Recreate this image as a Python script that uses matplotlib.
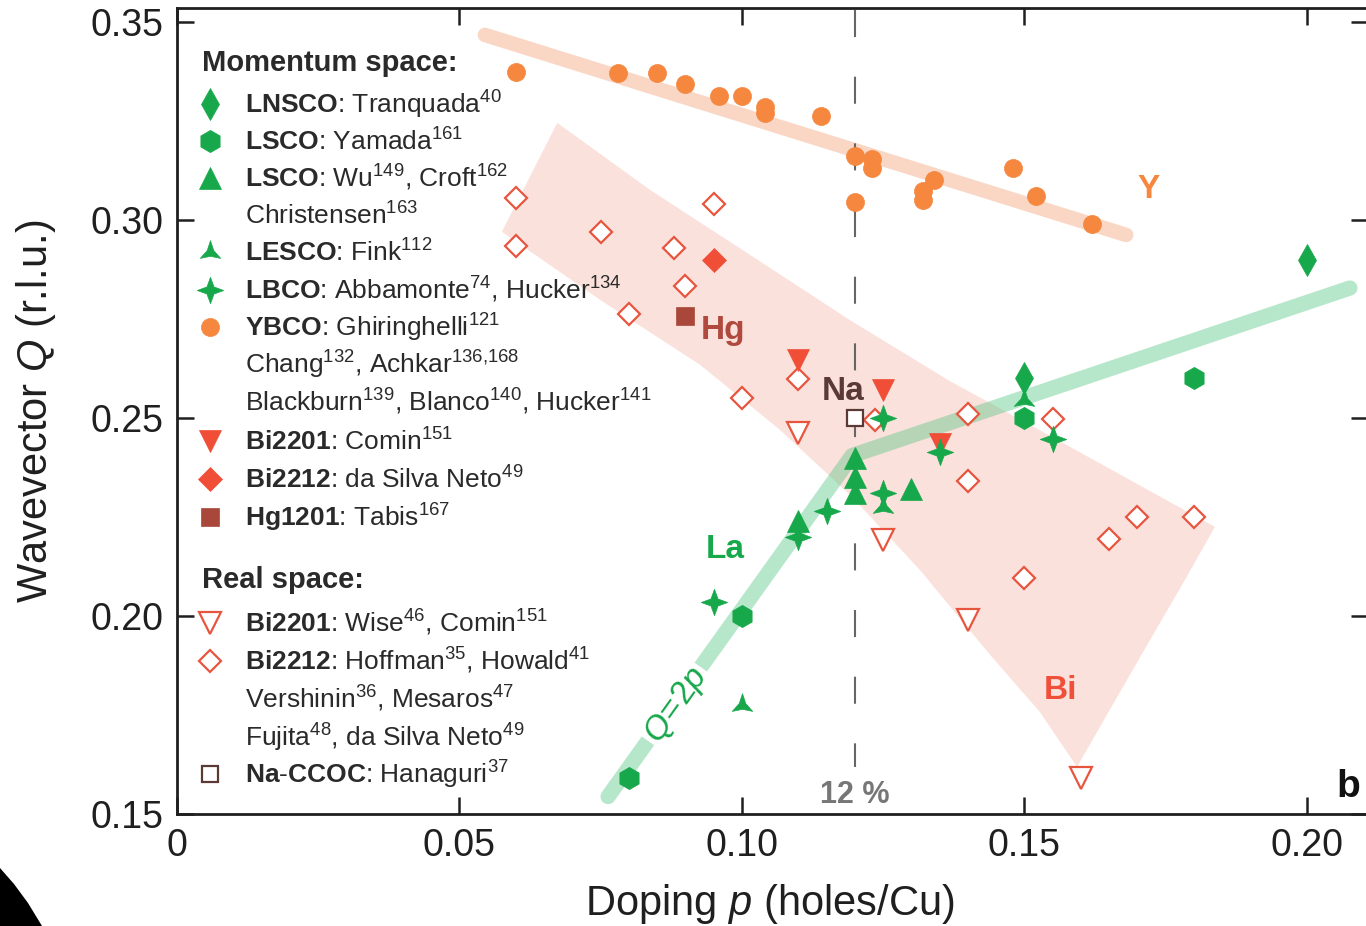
import matplotlib
matplotlib.use('Agg')
import matplotlib.pyplot as plt
from matplotlib.path import Path
from matplotlib.patches import Polygon

plt.rcParams['font.family'] = ['Liberation Sans', 'DejaVu Sans']
plt.rcParams['mathtext.fontset'] = 'custom'
plt.rcParams['mathtext.rm'] = 'Liberation Sans'
plt.rcParams['mathtext.it'] = 'Liberation Sans:italic'
plt.rcParams['mathtext.bf'] = 'Liberation Sans:bold'
plt.rcParams['lines.scale_dashes'] = False

# ---- momentum space data (doping p, wavevector Q) ----
lnsco_p = [0.15, 0.20]
lnsco_q = [0.260, 0.290]

lsco_yam_p = [0.08, 0.10, 0.15, 0.18]
lsco_yam_q = [0.159, 0.200, 0.250, 0.260]

lsco_wu_p = [0.11, 0.12, 0.12, 0.12, 0.13]
lsco_wu_q = [0.224, 0.240, 0.235, 0.231, 0.232]

lesco_p = [0.10, 0.125, 0.15]
lesco_q = [0.1775, 0.2275, 0.2545]

lbco_p = [0.095, 0.11, 0.115, 0.125, 0.125, 0.135, 0.155]
lbco_q = [0.2035, 0.220, 0.2266, 0.250, 0.231, 0.2414, 0.2447]

ybco_p = [0.060, 0.078, 0.085, 0.090, 0.096, 0.100, 0.104, 0.104, 0.114, 0.120,
          0.123, 0.123, 0.120, 0.134, 0.132, 0.132, 0.148, 0.152, 0.162]
ybco_q = [0.3373, 0.337, 0.337, 0.3343, 0.3312, 0.3312, 0.3285, 0.327, 0.3263, 0.3162,
          0.3153, 0.3131, 0.3046, 0.3101, 0.3072, 0.3051, 0.313, 0.3061, 0.299]

bi2201_comin_p = [0.11, 0.125, 0.135]
bi2201_comin_q = [0.2646, 0.2571, 0.2434]

bi2212_neto_p = [0.095]
bi2212_neto_q = [0.290]

hg1201_p = [0.09]
hg1201_q = [0.2758]

# ---- real space data ----
bi2201_stm_p = [0.11, 0.125, 0.14, 0.16]
bi2201_stm_q = [0.2461, 0.2192, 0.199, 0.1591]

bi2212_stm_p = [0.06, 0.06, 0.075, 0.095, 0.088, 0.09, 0.08, 0.11, 0.10, 0.1235,
                0.14, 0.14, 0.155, 0.165, 0.17, 0.18, 0.15]
bi2212_stm_q = [0.3055, 0.2934, 0.297, 0.304, 0.293, 0.2833, 0.2763, 0.2598, 0.255, 0.2495,
                0.251, 0.234, 0.2497, 0.2194, 0.2249, 0.2249, 0.2095]

naccoc_p = [0.12]
naccoc_q = [0.25]

# ---- guide bands ----
y_band_p = [0.0545, 0.168]
y_band_q = [0.3467, 0.2962]

la_band_p = [0.0763, 0.1195, 0.2076]
la_band_q = [0.1544, 0.2405, 0.2828]

# outline of the Bi region: upper edge, right edge down to the tip, lower edge back
bi_band_p = [0.0673, 0.0837, 0.1014, 0.1191, 0.1368, 0.1545, 0.1837,
             0.1784, 0.1722, 0.1651, 0.1593,
             0.1527, 0.1439, 0.1315, 0.1191, 0.1067, 0.0926, 0.0749, 0.0575]
bi_band_q = [0.3245, 0.3076, 0.2912, 0.2747, 0.2593, 0.2455, 0.2225,
             0.2091, 0.1939, 0.1763, 0.1619,
             0.1758, 0.1902, 0.2116, 0.2306, 0.2470, 0.2634, 0.2798, 0.2970]

p_cut = 0.12

xticks = [0, 0.05, 0.10, 0.15, 0.20]
xticklabels = ['0', '0.05', '0.10', '0.15', '0.20']
yticks = [0.15, 0.20, 0.25, 0.30, 0.35]
yticklabels = ['0.15', '0.20', '0.25', '0.30', '0.35']

GREEN = '#17a84b'
ORANGE = '#f5873f'
RED = '#f04e37'
RED_OPEN = '#e8553f'
BROWN = '#a8473a'
DARK_BROWN = '#5b3a35'
TXT = '#2a2a2a'

star4 = Path.unit_regular_star(4, 0.38)
tri3 = Path.unit_regular_star(3, 0.32)

fig = plt.figure(figsize=(13.66, 9.26), dpi=100)
ax = fig.add_axes([177 / 1366, (926 - 814) / 926, 1191 / 1366, 806 / 926])
ax.set_xlim(0, 0.2108)
ax.set_ylim(0.15, 0.3535)

# shaded guides
ax.add_patch(Polygon(list(zip(bi_band_p, bi_band_q)), closed=True,
                     facecolor='#fbe1dc', edgecolor='none', zorder=1))
ax.plot(y_band_p, y_band_q, color='#fad7c5', lw=10.5, solid_capstyle='round', zorder=2)
ax.plot(la_band_p, la_band_q, color='#4cc37f', alpha=0.4, lw=11,
        solid_capstyle='round', solid_joinstyle='round', zorder=2)
ax.text(0.0885, 0.1773, '$Q\\!=\\!2p$', color=GREEN, fontsize=24, rotation=54.5,
        ha='center', va='center', rotation_mode='anchor', zorder=3,
        bbox=dict(facecolor='white', edgecolor='none', pad=2))

# 12 % line
ax.plot([p_cut, p_cut], [0.353, 0.1619], color='#666666', lw=1.5,
        linestyle=(0, (19.5, 28.5)), zorder=3)


def pts(p, q, marker, ms, face, edge, mew=0.5, z=5):
    ax.plot(p, q, linestyle='none', marker=marker, ms=ms, mfc=face, mec=edge,
            mew=mew, zorder=z)


# real space (open symbols)
pts(bi2212_stm_p, bi2212_stm_q, 'D', 11.5, 'white', RED_OPEN, 1.6)
pts(bi2201_stm_p, bi2201_stm_q, 'v', 16, 'white', RED_OPEN, 1.6)
pts(naccoc_p, naccoc_q, 's', 11.5, 'white', DARK_BROWN, 1.6)

# momentum space (filled symbols)
pts(ybco_p, ybco_q, 'o', 13, ORANGE, ORANGE)
pts(bi2201_comin_p, bi2201_comin_q, 'v', 16, RED, RED)
pts(bi2212_neto_p, bi2212_neto_q, 'D', 12.5, RED, RED)
pts(hg1201_p, hg1201_q, 's', 12.5, BROWN, BROWN)
pts(lsco_yam_p, lsco_yam_q, 'h', 16, GREEN, GREEN, z=6)
pts(lsco_wu_p, lsco_wu_q, '^', 16, GREEN, GREEN, z=6)
pts(lesco_p, lesco_q, tri3, 17, GREEN, GREEN, z=6)
pts(lnsco_p, lnsco_q, 'd', 16, GREEN, GREEN, z=6)
pts(lbco_p, lbco_q, star4, 19, GREEN, GREEN, z=7)

# region labels
lab = dict(fontweight='bold', ha='center', va='center', zorder=8)
ax.text(0.1719, 0.3076, 'Y', color=ORANGE, fontsize=24, **lab)
ax.text(0.0966, 0.2722, 'Hg', color='#b04a3e', fontsize=24, **lab)
ax.text(0.1179, 0.2566, 'Na', color=DARK_BROWN, fontsize=24, **lab)
ax.text(0.0970, 0.2167, 'La', color=GREEN, fontsize=24, **lab)
ax.text(0.1563, 0.1813, 'Bi', color='#f0503a', fontsize=24, **lab)
ax.text(p_cut, 0.1548, '12 %', color='#777777', fontsize=22, **lab)
ax.text(0.2073, 0.1568, 'b', color='#111111', fontsize=28, **lab)

# legend, built row by row
leg_mx = 0.00584
leg_tx = 0.01204
leg_hx = 0.00442


def row_q(y_px):
    return 0.15 + (814 - y_px) / 3960


ax.text(leg_hx, row_q(63), 'Momentum space:', fontsize=21, fontweight='bold',
        color=TXT, va='center', zorder=8)
ax.text(leg_hx, row_q(580), 'Real space:', fontsize=21, fontweight='bold',
        color=TXT, va='center', zorder=8)

legend_rows = [
    (104, 'd', 16, GREEN, GREEN, r'$\mathbf{LNSCO}$: Tranquada$^{40}$'),
    (141, 'h', 16, GREEN, GREEN, r'$\mathbf{LSCO}$: Yamada$^{161}$'),
    (178, '^', 16, GREEN, GREEN, r'$\mathbf{LSCO}$: Wu$^{149}$, Croft$^{162}$'),
    (215, None, 0, None, None, r'Christensen$^{163}$'),
    (252, tri3, 17, GREEN, GREEN, r'$\mathbf{LESCO}$: Fink$^{112}$'),
    (290, star4, 19, GREEN, GREEN, r'$\mathbf{LBCO}$: Abbamonte$^{74}$, Hucker$^{134}$'),
    (327, 'o', 13, ORANGE, ORANGE, r'$\mathbf{YBCO}$: Ghiringhelli$^{121}$'),
    (364, None, 0, None, None, r'Chang$^{132}$, Achkar$^{136{,}168}$'),
    (402, None, 0, None, None, r'Blackburn$^{139}$, Blanco$^{140}$, Hucker$^{141}$'),
    (441, 'v', 16, RED, RED, r'$\mathbf{Bi2201}$: Comin$^{151}$'),
    (479, 'D', 12.5, RED, RED, r'$\mathbf{Bi2212}$: da Silva Neto$^{49}$'),
    (517, 's', 12.5, BROWN, BROWN, r'$\mathbf{Hg1201}$: Tabis$^{167}$'),
    (623, 'v', 16, 'white', RED_OPEN, r'$\mathbf{Bi2201}$: Wise$^{46}$, Comin$^{151}$'),
    (661, 'D', 11.5, 'white', RED_OPEN, r'$\mathbf{Bi2212}$: Hoffman$^{35}$, Howald$^{41}$'),
    (699, None, 0, None, None, r'Vershinin$^{36}$, Mesaros$^{47}$'),
    (737, None, 0, None, None, r'Fujita$^{48}$, da Silva Neto$^{49}$'),
    (774, 's', 11.5, 'white', DARK_BROWN, r'$\mathbf{Na}$-$\mathbf{CCOC}$: Hanaguri$^{37}$'),
]

for y_px, mk, ms, fc, ec, label in legend_rows:
    q = row_q(y_px)
    if mk is not None:
        open_mk = fc == 'white'
        ax.plot([leg_mx], [q], linestyle='none', marker=mk, ms=ms, mfc=fc, mec=ec,
                mew=1.6 if open_mk else 0.5, zorder=8, clip_on=False)
    ax.text(leg_tx, q - 9.5 / 3960, label, fontsize=19, color=TXT, va='baseline',
            zorder=8)

# axes styling
ax.set_xticks(xticks)
ax.set_xticklabels(xticklabels)
ax.set_yticks(yticks)
ax.set_yticklabels(yticklabels)
ax.tick_params(direction='in', length=12, width=1.8, top=True, right=True,
               labelsize=27, colors='#1f1f1f', pad=10)
for s in ax.spines.values():
    s.set_linewidth(2)
    s.set_color('#1f1f1f')

ax.set_xlabel('Doping $p$ (holes/Cu)', fontsize=30, color='#1f1f1f')
ax.set_ylabel('Wavevector $Q$ (r.l.u.)', fontsize=30, color='#1f1f1f')
ax.xaxis.set_label_coords(0.498, -0.0844)
ax.yaxis.set_label_coords(-0.1, 0.5)

# dark corner at the lower left
corner = [(0, 868), (14, 884), (28, 903), (42, 926), (0, 926)]
fig.patches.append(Polygon([(x / 1366, 1 - y / 926) for x, y in corner], closed=True,
                           facecolor='black', edgecolor='none',
                           transform=fig.transFigure, figure=fig))

fig.savefig('out.png', dpi=100)
